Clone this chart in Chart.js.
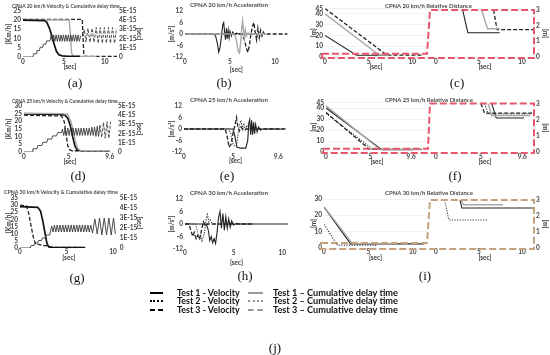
<!DOCTYPE html>
<html><head><meta charset="utf-8">
<script src="https://cdn.jsdelivr.net/npm/chart.js@4.4.1/dist/chart.umd.min.js"></script>
<style>
html,body{margin:0;padding:0;background:#fff;}
#root{position:relative;width:550px;height:355px;overflow:hidden;background:#fff;}
#root canvas{position:absolute;}
.tt{position:absolute;white-space:nowrap;font-family:Lato,'Open Sans',sans-serif;font-weight:bold;color:#4a4a4a;line-height:1;transform:translateY(-50%);}
.lab{position:absolute;font-family:'Liberation Serif','DejaVu Serif',serif;font-size:13px;line-height:1;transform:translate(-50%,-50%);color:#111;white-space:nowrap;}
.lgt{position:absolute;white-space:nowrap;font-family:Lato,'Open Sans',sans-serif;font-weight:bold;color:#111;line-height:1;transform:translateY(-50%);}
.sym{position:absolute;height:0;}
</style></head><body><div id="root"></div>
<script>
// ---------------- DATA ([time s, value]) ----------------
// (a) CPNA 20 km/h velocity [km/h] and cumulative delay time [E-15 s]
const A_vel1 = [[0,20],[2.6,19.8],[2.9,19],[3.2,16],[3.5,12],[3.8,7],[4.1,3],[4.4,1.2],[4.8,0.6],[5.5,0.4],[7,0.3]];
const A_vel2 = [[0,20.2],[5.65,20.1],[5.8,12],[5.95,2],[6.2,0.5],[9,0.3]];
const A_vel3 = [[0,20.5],[7.25,20.5],[7.35,10],[7.45,0.4],[11.5,0.3]];
const A_cum1 = [[0,0],[1.2,0],[1.3,0.35],[1.6,0.35],[1.7,0.7],[2.0,0.7],[2.1,1.05],[2.4,1.05],[2.5,1.4],[2.8,1.4],[2.9,1.75],[3.3,1.75],[3.45,2.4],[3.6,1.7],[3.75,2.4],[3.9,1.7],[4.05,2.4],[4.2,1.7],[4.35,2.4],[4.5,1.7],[4.65,2.4],[4.8,1.7],[4.95,2.4],[5.1,1.7],[5.25,2.4],[5.4,1.7],[5.55,2.4],[5.7,1.7],[5.85,2.4],[6.0,1.7],[6.15,2.4],[6.3,1.7],[6.45,2.4],[6.6,1.7],[6.75,2.4],[6.9,1.7],[7.05,2.3]];
const A_cum3 = [[7.3,2.2],[7.5,3.0],[7.7,1.6],[7.95,3.1],[8.2,1.6],[8.45,3.1],[8.7,1.6],[8.95,3.2],[9.2,1.5],[9.45,3.2],[9.7,1.5],[9.95,3.2],[10.2,1.5],[10.45,3.2],[10.7,1.5],[10.95,3.2],[11.2,1.5],[11.45,3.1]];
// (b) CPNA 20 km/h acceleration [m/s2]
const B_acc1 = [[0,0],[3.2,0],[3.4,-1],[3.6,-5],[3.75,-9.5],[3.9,-7],[4.05,-1],[4.2,5],[4.3,6],[4.4,1],[4.5,-3],[4.6,3],[4.7,-2.5],[4.8,2],[4.9,-2],[5.0,1.5],[5.15,-1],[5.3,1],[5.5,-0.5],[5.7,0.5],[6,0],[8,0]];
const B_acc2 = [[0,0],[5.5,0],[5.7,-3],[5.9,-9],[6.05,-10],[6.2,-4],[6.3,3],[6.4,7],[6.5,2],[6.6,-2],[6.7,2],[6.8,-1],[7.0,0.5],[7.3,0],[9,0]];
const B_acc3 = [[0,0],[6.3,0],[6.6,-3],[6.85,-8],[7.0,-9.5],[7.15,-6],[7.3,-1],[7.5,4],[7.65,6],[7.8,1],[7.95,-3],[8.1,3],[8.25,-2],[8.4,2],[8.55,-1],[8.7,1],[8.9,-0.5],[9.2,0],[11.4,0]];
// (c) CPNA 20 km/h relative distance [m]
const C_L1 = [[0,20],[3.6,1.6],[7.4,1.6]];
const C_L2 = [[0,40],[6.2,1.8],[7.4,1.8]];
const C_L3 = [[0,45],[7.1,1.75],[11.3,1.75]];
const C_R1 = [[3.1,3],[3.7,1.55],[7.4,1.55]];
const C_R2 = [[5.3,3],[6.0,1.8],[7.4,1.8]];
const C_R3 = [[6.7,3],[7.1,1.75],[11.3,1.75]];
// (d) CPNA 25 km/h velocity & cumulative delay time
const D_vel1 = [[0,24.8],[4.0,24.5],[4.6,24],[4.9,22],[5.2,17],[5.45,10],[5.7,4],[5.95,1.5],[6.3,0.8],[9.6,0.8]];
const D_vel2 = [[0,25.3],[4.3,25],[4.9,24.5],[5.25,20],[5.5,14],[5.75,7],[6.0,2.5],[6.3,1.0],[9.6,0.9]];
const D_vel3 = [[0,24],[4.2,23.5],[4.5,20],[4.7,12],[4.9,4],[5.1,1.5],[5.4,0.8],[9.6,0.8]];
const D_cum1 = [[0,0],[0.9,0],[1.0,0.35],[1.45,0.35],[1.55,0.7],[2.0,0.7],[2.1,1.05],[2.55,1.05],[2.65,1.4],[3.1,1.4],[3.2,1.75],[3.65,1.75],[3.75,2.1],[4.2,2.1],[4.3,2.5],[4.45,1.8],[4.6,2.6],[4.75,1.8],[4.9,2.6],[5.05,1.8],[5.2,2.6],[5.35,1.8],[5.5,2.6],[5.65,1.8],[5.8,2.6],[5.95,1.8],[6.1,2.6],[6.25,1.8],[6.4,2.6],[6.55,1.8],[6.7,2.6],[6.85,1.8],[7.0,2.6],[7.15,1.8],[7.3,2.6],[7.45,1.8],[7.6,2.7],[7.75,1.8],[7.9,2.7],[8.05,1.7],[8.2,2.8],[8.35,1.7],[8.5,2.9]];
const D_cum3 = [[8.5,2.9],[8.7,1.6],[8.9,3.2],[9.1,1.5],[9.3,3.3],[9.5,1.5],[9.7,3.3]];
// (e) CPNA 25 km/h acceleration
const E_acc1 = [[0,0],[5.0,0],[5.2,-4],[5.4,-9.5],[5.8,-10],[6.3,-10],[6.5,-6],[6.6,3],[6.7,5],[6.8,-3],[6.9,4.5],[7.0,-3],[7.1,3.5],[7.2,-2.5],[7.3,2.5],[7.45,-1.5],[7.6,1],[7.8,-0.5],[8.0,0],[10.2,0]];
const E_acc2 = [[0,0],[4.6,0],[4.8,-3],[5.0,-8],[5.2,-9],[5.35,-8.5],[5.5,-3],[5.65,2],[5.8,4.5],[5.95,0],[6.1,3],[6.25,-1],[6.4,2],[6.6,0],[9.6,0]];
const E_acc3 = [[0,0],[4.2,0],[4.4,-4],[4.6,-9.5],[4.8,-8],[5.0,-2],[5.2,2],[5.35,6],[5.5,1],[5.65,-1],[5.8,1],[6.0,0],[10.5,0]];
// (f) CPNA 25 km/h relative distance
const F_L1 = [[0,40],[6.3,2.1],[9.8,2.1]];
const F_L2 = [[0,42],[6.1,2.3],[10.5,2.3]];
const F_L3 = [[0,35],[5.3,2.35],[10.5,2.35]];
const F_L4 = [[0,36],[4.9,2.4],[10.8,2.4]];
const F_R1 = [[6.2,3],[6.7,2.1],[9.8,2.1]];
const F_R2 = [[5.8,3],[6.2,2.25],[10.5,2.25]];
const F_R3 = [[5.4,3],[5.8,2.35],[10.5,2.35]];
const F_R4 = [[5.0,3],[5.4,2.4],[10.8,2.4]];
// (g) CPNA 30 km/h velocity & cumulative delay time
const G_vel1 = [[0,29],[1.9,28.5],[2.2,26],[2.45,19],[2.7,10],[2.9,3],[3.1,0.8],[3.5,0.4],[7,0.3]];
const G_vel3 = [[0,30],[0.7,29.5],[0.95,24],[1.2,15],[1.45,7],[1.7,2.5],[2.0,2.5],[2.4,1.8],[3.0,1.5],[3.3,0.5],[7,0.3]];
const G_cum1 = [[0,0],[1.1,0],[1.2,0.25],[1.5,0.25],[1.6,0.5],[1.9,0.5],[2.0,0.75],[2.3,0.75],[2.4,1.0],[2.7,1.0],[2.8,1.3],[3.2,1.3],[3.4,2.2],[3.55,1.6],[3.7,2.3],[3.85,1.6],[4.0,2.3],[4.15,1.6],[4.3,2.3],[4.45,1.6],[4.6,2.3],[4.75,1.6],[4.9,2.3],[5.05,1.6],[5.2,2.3],[5.35,1.6],[5.5,2.3],[5.65,1.6],[5.8,2.3],[5.95,1.6],[6.1,2.3],[6.25,1.6],[6.4,2.3],[6.55,1.6],[6.7,2.3],[6.85,1.6],[7.0,2.3],[7.15,1.6],[7.3,2.3],[7.45,1.6],[7.6,2.3],[7.8,1.5]];
const G_cum2 = [[7.8,1.5],[8.05,2.9],[8.3,1.4],[8.55,3.0],[8.8,1.3],[9.05,3.0],[9.3,1.3],[9.55,3.0],[9.8,1.3],[10.05,3.0],[10.25,1.4]];
// (h) CPNA 30 km/h acceleration
const H_acc1 = [[0,0],[2.2,0],[2.4,-3],[2.55,-8],[2.7,-6],[2.85,-9],[3.0,-7],[3.15,-9.3],[3.3,-4],[3.45,3],[3.6,6],[3.75,-2],[3.9,5],[4.05,-3],[4.2,3.5],[4.35,-2],[4.5,2.5],[4.65,-1.5],[4.8,1.5],[5.0,-0.5],[5.3,0.3],[5.6,0],[10.6,0]];
const H_acc2 = [[0,0],[1.1,0],[1.3,-4],[1.45,-7],[1.6,-5],[1.75,-8],[1.9,-6],[2.05,-3],[2.2,3],[2.3,4.5],[2.45,1],[2.6,2],[2.8,0],[7,0]];
const H_acc3 = [[0,0],[0.4,0],[0.6,-3],[0.8,-6],[0.95,-4],[1.15,-7],[1.3,-5.5],[1.5,-7.5],[1.7,-3],[1.9,1],[2.1,-1],[2.3,0],[7,0]];
// (i) CPNA 30 km/h relative distance
const I_L1 = [[0,25],[3.0,2.5],[11.3,2.5]];
const I_L2 = [[0,25.3],[3.2,2.7],[7.8,2.7]];
const I_L3 = [[0,14.5],[1.5,1.75],[6.0,1.75]];
const I_R1 = [[2.8,3],[3.0,2.5],[11.3,2.5]];
const I_R2 = [[2.9,3],[3.2,2.7],[7.8,2.7]];
const I_R3 = [[1.0,3],[1.5,1.75],[6.0,1.75]];
// tick labels
const TX_10 = [0,5,10];
const TX_96 = [0,5,9.6];
const TY_V20 = [0,5,10,15,20,25];
const TY_V25 = [0,5,10,15,20,25,30];
const TY_V30 = [0,5,10,15,20,25,30,35];
const TY_CUM = [0,1,2,3,4,5];
const TY_ACC = [-12,-6,0,6,12];
const TY_D45 = [0,10,20,30,40,45];
const TY_D30 = [0,10,20,30];
const TY_D3 = [0,1,2,3];
const TITLES = [
  ['CPNA 20 km/h Velocity & Cumulative delay time',12,6,108],
  ['CPNA 20 km/h Acceleration',190,5,78],
  ['CPNA 20 km/h Relative Distance',385,6,87],
  ['CPNA 25 km/h Velocity & Cumulative delay time',12,101,106],
  ['CPNA 25 km/h Acceleration',190,100,78],
  ['CPNA 25 km/h Relative Distance',385,100,88],
  ['CPNA 30 km/h Velocity & Cumulative delay time',4,193,114],
  ['CPNA 30 km/h Acceleration',190,193,78],
  ['CPNA 30 km/h Relative Distance',385,193,88]
];
const PANEL_LABELS = [['(a)',75,82],['(b)',224,82],['(c)',457,82],['(d)',78,175],['(e)',227,175],['(f)',455,175],['(g)',77,277],['(h)',245,275],['(i)',425,275],['(j)',275,347]];
const LEGEND = [
  ['Test 1 - Velocity','k','Test 1 \u2013 Cumulative delay time','g'],
  ['Test 2 - Velocity','kt','Test 2 \u2013 Cumulative delay time','gt'],
  ['Test 3 - Velocity','kd','Test 3 \u2013 Cumulative delay time','gd']
];

// ---------------- STYLE ----------------
const root = document.getElementById('root');
const FAM = "Lato, 'Open Sans', sans-serif";
const TFONT = {family: FAM, size: 6.5, weight: 'bold'};
const TCOL = '#404040';
const STY = {
  k:  {c:'#111', w:1.7, d:[]},
  kn: {c:'#222', w:1.1, d:[]},
  g:  {c:'#a8a8a8', w:1.4, d:[]},
  kd: {c:'#222', w:1.3, d:[4,2]},
  kt: {c:'#333', w:1.1, d:[1.2,1.4]},
  gd: {c:'#777', w:1.1, d:[3,2]},
  gt: {c:'#888', w:1.1, d:[1.2,1.4]},
  z:  {c:'#3a3a3a', w:0.9, d:[]},
  zd: {c:'#3a3a3a', w:0.9, d:[3,1.5]}
};
Chart.defaults.font.family = FAM;

function fmt(v){ return String(Math.round(v*10)/10); }

function axisX(spec){
  return {
    type:'linear', position:'bottom', min:0, max:spec.xmax,
    afterBuildTicks: s => { s.ticks = spec.xt.map(v => ({value:v})); },
    afterFit: s => { s.height = spec.botH; },
    ticks:{font:TFONT, color:TCOL, padding:spec.xpad ?? 1, maxRotation:0, autoSkip:false, callback:v=>fmt(v)},
    grid:{display:false, drawTicks:false}, border:{display:false},
    title:{display:true, text:'[sec]', font:TFONT, color:TCOL, padding:{top:0,bottom:0}}
  };
}
function axisY(pos, min, max, ticks, width, title, tpad, grid, cb){
  return {
    type:'linear', position:pos, min:min, max:max,
    afterBuildTicks: s => { s.ticks = ticks.map(v => ({value:v})); },
    afterFit: s => { s.width = width; },
    ticks:{font:TFONT, color:TCOL, padding:2, autoSkip:false, callback: cb || (v=>fmt(v))},
    grid:{display:!!grid, color:grid||'#eee', lineWidth:0.6, drawTicks:false}, border:{display:false},
    title:{display:true, text:title, font:TFONT, color:TCOL, padding:{top:tpad,bottom:0}}
  };
}
function ds(data, st, yID){
  const s = STY[st];
  return {data:data.map(p=>({x:p[0], y:p[1]})), borderColor:s.c, borderWidth:s.w, borderDash:s.d,
    pointRadius:0, tension:0, fill:false, yAxisID:yID||'y', borderJoinStyle:'miter'};
}
function makeChart(box, area, scales, datasets, pad){
  const c = document.createElement('canvas');
  const W = box[2]-box[0], H = box[3]-box[1];
  c.width = W; c.height = H;
  c.style.left = box[0]+'px'; c.style.top = box[1]+'px';
  c.style.width = W+'px'; c.style.height = H+'px';
  root.appendChild(c);
  const ch = new Chart(c, {
    type:'line',
    data:{datasets:datasets},
    options:{
      responsive:false, animation:false, devicePixelRatio:1, events:[],
      layout:{autoPadding:false, padding:{top:area[1]-box[1], left:pad.left||0, right:pad.right||0, bottom:0}},
      plugins:{legend:{display:false}, tooltip:{enabled:false}, title:{display:false}},
      scales:scales
    }
  });
  ch._box = box;
  return ch;
}
const cumCb = v => v===0 ? '0' : (v+'E-15');

function velPanel(box, area, xmax, xt, ymax, yt, vel, cum, xpad){
  const spec = {xmax:xmax, xt:xt, botH:box[3]-area[3], xpad:xpad};
  return makeChart(box, area, {
    x: axisX(spec),
    y: axisY('left', 0, ymax, yt, area[0]-box[0], '[Km/h]', 5),
    y2: axisY('right', 0, 5, TY_CUM, box[2]-area[2], '[sec]', 2, null, cumCb)
  }, cum.map(s=>ds(s[0], s[1], 'y2')).concat(vel.map(s=>ds(s[0], s[1], 'y'))), {});
}
function accPanel(box, area, xmax, xt, series, xpad){
  const spec = {xmax:xmax, xt:xt, botH:box[3]-area[3], xpad:xpad};
  return makeChart(box, area, {
    x: axisX(spec),
    y: axisY('left', -12, 12, TY_ACC, area[0]-box[0], '[m/s\u00b2]', 3)
  }, series.map(s=>ds(s[0], s[1])), {right: box[2]-area[2]});
}
function distL(box, area, xmax, xt, ymax, yt, series, gcol, xpad){
  const spec = {xmax:xmax, xt:xt, botH:box[3]-area[3], xpad:xpad};
  return makeChart(box, area, {
    x: axisX(spec),
    y: axisY('left', 0, ymax, yt, area[0]-box[0], '[m]', 5, gcol)
  }, series.map(s=>ds(s[0], s[1])), {right: box[2]-area[2]});
}
function distR(box, area, xmax, xt, series, xpad){
  const spec = {xmax:xmax, xt:xt, botH:box[3]-area[3], xpad:xpad};
  return makeChart(box, area, {
    x: axisX(spec),
    y: axisY('right', 0, 3, TY_D3, box[2]-area[2], '[m]', 1)
  }, series.map(s=>ds(s[0], s[1])), {left: area[0]-box[0]});
}

// ---------------- CHARTS ----------------
velPanel([0,0,145,71],[23,11,117,57], 11.5, TX_10, 25, TY_V20,
  [[A_vel1,'k'],[A_vel2,'g'],[A_vel3,'kd']], [[A_cum1,'z'],[A_cum3,'zd']]);
accPanel([165,0,292,74],[185,11,287.6,57], 11.4, TX_10,
  [[B_acc2,'g'],[B_acc3,'kd'],[B_acc1,'kn']]);
const cL = distL([305,0,430,71],[325,8.5,427,57], 11.7, TX_10, 45, TY_D45,
  [[C_L2,'g'],[C_L3,'kd'],[C_L1,'kn']], '#e9e9e9');
const cR = distR([430,0,550,71],[436,10,534,57], 11.4, TX_10,
  [[C_R2,'g'],[C_R3,'kd'],[C_R1,'kn']]);

velPanel([0,95,145,166],[24,106,116,152], 10.3, TX_96, 30, TY_V25,
  [[D_vel2,'g'],[D_vel1,'k'],[D_vel3,'kd']], [[D_cum1,'z'],[D_cum3,'zd']]);
accPanel([165,95,292,165],[184,106,287,152], 10.5, TX_96,
  [[E_acc2,'kt'],[E_acc3,'kd'],[E_acc1,'kn']]);
const fL = distL([305,95,430,166],[326,102.5,428,152], 11.5, TX_96, 45, TY_D45,
  [[F_L2,'g'],[F_L3,'kt'],[F_L4,'kd'],[F_L1,'kn']], '#e9e9e9');
const fR = distR([430,95,550,166],[436,103.5,534,152], 10.9, TX_96,
  [[F_R2,'g'],[F_R3,'kt'],[F_R4,'kd'],[F_R1,'kn']]);

velPanel([0,190,145,262],[20,198,117.7,248], 10.5, TX_10, 35, TY_V30,
  [[G_vel1,'k'],[G_vel3,'kd']], [[G_cum1,'z'],[G_cum2,'z']], 0);
accPanel([165,190,292,267],[185,199,288,249], 10.6, TX_10,
  [[H_acc2,'kt'],[H_acc3,'kd'],[H_acc1,'kn']], 0);
const iL = distL([305,190,430,262],[324,199,427,248], 11.6, TX_10, 30, TY_D30,
  [[I_L2,'g'],[I_L3,'kt'],[I_L1,'kn']], '#f4e4e4', 0);
const iR = distR([430,190,550,262],[436,200,534,248], 11.4, TX_10,
  [[I_R2,'g'],[I_R3,'kt'],[I_R1,'kn']], 0);

// ---------------- ZOOM CALLOUT BOXES (from chart scales) ----------------
const ov = document.createElement('canvas');
ov.width = 550; ov.height = 355;
ov.style.left = '0px'; ov.style.top = '0px';
root.appendChild(ov);
const octx = ov.getContext('2d');
function px(ch, v){ return ch._box[0] + ch.scales.x.getPixelForValue(v); }
function py(ch, v){ return ch._box[1] + ch.scales.y.getPixelForValue(v); }
function callout(L, R, col){
  const xa = px(L, 0) - 3, xl1 = px(L, L.scales.x.max), ys = py(L, 3), yb = py(L, 0) + 1;
  const xc = px(R, 0) - 6, xr = px(R, R.scales.x.max), yt = py(R, 3);
  octx.save();
  octx.strokeStyle = col; octx.lineWidth = 2; octx.setLineDash([7,3]);
  octx.beginPath();
  octx.moveTo(xa, ys); octx.lineTo(xl1, ys); octx.lineTo(xc, yt); octx.lineTo(xr, yt);
  octx.lineTo(xr, yb); octx.lineTo(xa, yb); octx.closePath();
  octx.stroke();
  octx.restore();
}
callout(cL, cR, '#e8566e');
callout(fL, fR, '#e8566e');
callout(iL, iR, '#c4a27e');

// ---------------- TEXT ----------------
function fitText(el, target){
  el.style.fontSize = '10px';
  const w = el.getBoundingClientRect().width;
  el.style.fontSize = (10*target/w).toFixed(2)+'px';
}
TITLES.forEach(t => {
  const d = document.createElement('div');
  d.className = 'tt'; d.textContent = t[0];
  d.style.left = t[1]+'px'; d.style.top = t[2]+'px';
  root.appendChild(d); fitText(d, t[3]);
});
PANEL_LABELS.forEach(t => {
  const d = document.createElement('div');
  d.className = 'lab'; d.textContent = t[0];
  d.style.left = t[1]+'px'; d.style.top = t[2]+'px';
  root.appendChild(d);
});
const LROWS = [293, 301.3, 309.6];
const SYMCSS = {k:'2.2px solid #000', kt:'2px dotted #000', kd:'2.4px dashed #000', g:'2.2px solid #999', gt:'2px dotted #999', gd:'2.4px dashed #999'};
LEGEND.forEach((r, i) => {
  const y = LROWS[i];
  [[r[1],150,163,r[0],177,63],[r[3],248,263,r[2],273,125]].forEach(e => {
    const s = document.createElement('div');
    s.className = 'sym'; s.style.left = e[1]+'px'; s.style.width = (e[2]-e[1])+'px';
    s.style.top = (y-1)+'px'; s.style.borderTop = SYMCSS[e[0]];
    root.appendChild(s);
    const d = document.createElement('div');
    d.className = 'lgt'; d.textContent = e[3];
    d.style.left = e[4]+'px'; d.style.top = y+'px';
    root.appendChild(d); fitText(d, e[5]);
  });
});
</script>
</body></html>
